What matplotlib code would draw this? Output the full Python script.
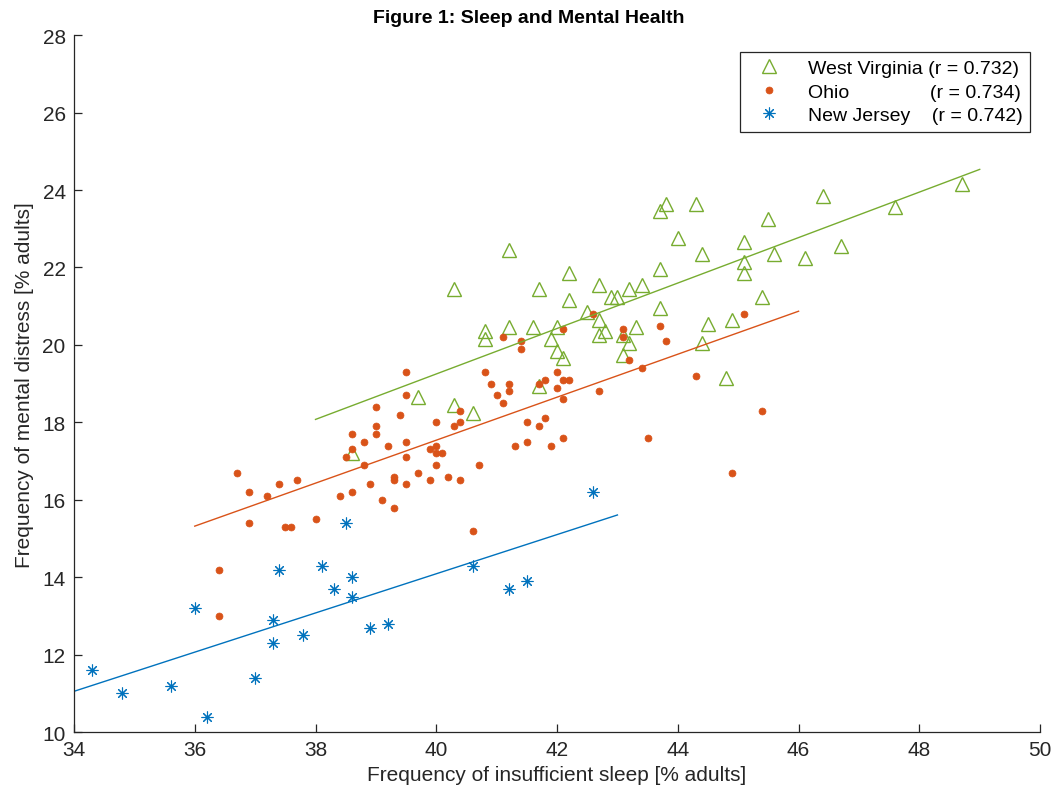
import numpy as np
import matplotlib
matplotlib.use("Agg")
from matplotlib import pyplot as plt

plt.rcParams['font.family'] = ['Liberation Sans', 'DejaVu Sans']

# West Virginia counties: insufficient sleep vs mental distress (% adults)
wv_sleep = [38.6, 39.7, 40.3, 40.6, 40.3, 40.8, 40.8, 41.2, 41.2, 41.6, 41.7, 41.7, 41.9,
            42.0, 42.0, 42.1, 42.2, 42.2, 42.5, 42.7, 42.7, 42.7, 42.8, 42.9, 43.0, 43.1,
            43.1, 43.2, 43.2, 43.3, 43.4, 43.7, 43.7, 43.7, 43.8, 44.0, 44.3, 44.4, 44.4,
            44.5, 44.8, 44.9, 45.1, 45.1, 45.1, 45.4, 45.5, 45.6, 46.1, 46.4, 46.7, 47.6, 48.7]
wv_distress = [17.2, 18.65, 18.45, 18.25, 21.45, 20.35, 20.15, 22.45, 20.45, 20.45, 21.45,
               18.95, 20.15, 20.45, 19.85, 19.65, 21.85, 21.15, 20.85, 21.55, 20.65, 20.25,
               20.35, 21.25, 21.25, 20.25, 19.75, 21.45, 20.05, 20.45, 21.55, 23.45, 21.95,
               20.95, 23.65, 22.75, 23.65, 22.35, 20.05, 20.55, 19.15, 20.65, 22.65, 22.15,
               21.85, 21.25, 23.25, 22.35, 22.25, 23.85, 22.55, 23.55, 24.15]

# Ohio counties
oh_sleep = [36.4, 36.4, 36.7, 36.9, 36.9, 37.2, 37.4, 37.5, 37.6, 37.7, 38.0, 38.4, 38.5,
            38.6, 38.6, 38.6, 38.8, 38.8, 38.9, 39.0, 39.0, 39.0, 39.1, 39.2, 39.3, 39.3,
            39.3, 39.4, 39.5, 39.5, 39.5, 39.5, 39.5, 39.7, 39.9, 39.9, 40.0, 40.0, 40.0,
            40.0, 40.1, 40.2, 40.3, 40.4, 40.4, 40.4, 40.6, 40.7, 40.8, 40.9, 41.0, 41.1,
            41.1, 41.2, 41.2, 41.3, 41.4, 41.4, 41.5, 41.5, 41.7, 41.7, 41.8, 41.8, 41.9,
            42.0, 42.0, 42.1, 42.1, 42.1, 42.1, 42.2, 42.6, 42.7, 43.1, 43.1, 43.2, 43.4,
            43.5, 43.7, 43.8, 44.3, 44.9, 45.1, 45.4]
oh_distress = [14.2, 13.0, 16.7, 16.2, 15.4, 16.1, 16.4, 15.3, 15.3, 16.5, 15.5, 16.1, 17.1,
               17.3, 17.7, 16.2, 17.5, 16.9, 16.4, 18.4, 17.9, 17.7, 16.0, 17.4, 16.6, 16.5,
               15.8, 18.2, 19.3, 18.7, 17.5, 17.1, 16.4, 16.7, 17.3, 16.5, 18.0, 17.4, 17.2,
               16.9, 17.2, 16.6, 17.9, 18.3, 18.0, 16.5, 15.2, 16.9, 19.3, 19.0, 18.7, 18.5,
               20.2, 19.0, 18.8, 17.4, 20.1, 19.9, 18.0, 17.5, 19.0, 17.9, 19.1, 18.1, 17.4,
               19.3, 18.9, 20.4, 19.1, 18.6, 17.6, 19.1, 20.8, 18.8, 20.4, 20.2, 19.6, 19.4,
               17.6, 20.5, 20.1, 19.2, 16.7, 20.8, 18.3]

# New Jersey counties
nj_sleep = [34.3, 34.8, 35.6, 36.0, 36.2, 37.0, 37.3, 37.3, 37.4, 37.8, 38.1, 38.3, 38.5,
            38.6, 38.6, 38.9, 39.2, 40.6, 41.2, 41.5, 42.6]
nj_distress = [11.6, 11.0, 11.2, 13.2, 10.4, 11.4, 12.9, 12.3, 14.2, 12.5, 14.3, 13.7, 15.4,
               14.0, 13.5, 12.7, 12.8, 14.3, 13.7, 13.9, 16.2]

# fitted lines: (slope, intercept) and x range
wv_fit = [0.587, -4.23]
oh_fit = [0.555, -4.66]
nj_fit = [0.506, -6.15]
wv_fit_range = [38, 49]
oh_fit_range = [36, 46]
nj_fit_range = [34, 43]

labels = ["West Virginia (r = 0.732)",
          "Ohio               (r = 0.734)",
          "New Jersey    (r = 0.742)"]

green = "#77AC30"
orange = "#D95319"
blue = "#0072BD"
axcol = "#262626"

fig, ax = plt.subplots(figsize=(10.57, 8.03), dpi=100)
fig.subplots_adjust(left=0.070, right=0.984, bottom=0.087, top=0.955)

ax.plot(wv_sleep, wv_distress, linestyle="none", marker="^", markersize=9.5,
        markerfacecolor="none", markeredgecolor=green, markeredgewidth=1.0, label=labels[0])
ax.plot(oh_sleep, oh_distress, linestyle="none", marker="o", markersize=5,
        markerfacecolor=orange, markeredgecolor=orange, markeredgewidth=0.5, label=labels[1])
ax.plot(nj_sleep, nj_distress, linestyle="none", marker=(8, 2, 0), markersize=8.5,
        markeredgecolor=blue, markeredgewidth=0.8, color=blue, label=labels[2])

for p, rng, col in [(wv_fit, wv_fit_range, green),
                    (oh_fit, oh_fit_range, orange),
                    (nj_fit, nj_fit_range, blue)]:
    xx = np.array(rng, dtype=float)
    ax.plot(xx, np.polyval(p, xx), color=col, linewidth=1.0)

ax.set_xlim(34, 50)
ax.set_ylim(10, 28)
ax.set_xticks(np.arange(34, 51, 2))
ax.set_yticks(np.arange(10, 29, 2))
ax.spines["top"].set_visible(False)
ax.spines["right"].set_visible(False)
for s in ["left", "bottom"]:
    ax.spines[s].set_color(axcol)
    ax.spines[s].set_linewidth(0.9)
ax.tick_params(direction="in", length=6, width=0.9, colors=axcol, labelsize=15, pad=6)

ax.set_xlabel("Frequency of insufficient sleep [% adults]", fontsize=15, color=axcol, labelpad=4)
ax.set_ylabel("Frequency of mental distress [% adults]", fontsize=15, color=axcol, labelpad=6)
fig.text(0.5, 0.977, "Figure 1: Sleep and Mental Health", fontsize=14, fontweight="bold",
         ha="center", va="center")

leg = ax.legend(loc="upper right", bbox_to_anchor=(0.99, 0.976), borderaxespad=0,
                fontsize=14, frameon=True, fancybox=False, framealpha=1, edgecolor=axcol,
                handletextpad=0.9, borderpad=0.4, labelspacing=0.3, handlelength=2.2)
leg.get_frame().set_linewidth(0.9)

fig.savefig("out.png", dpi=100)
